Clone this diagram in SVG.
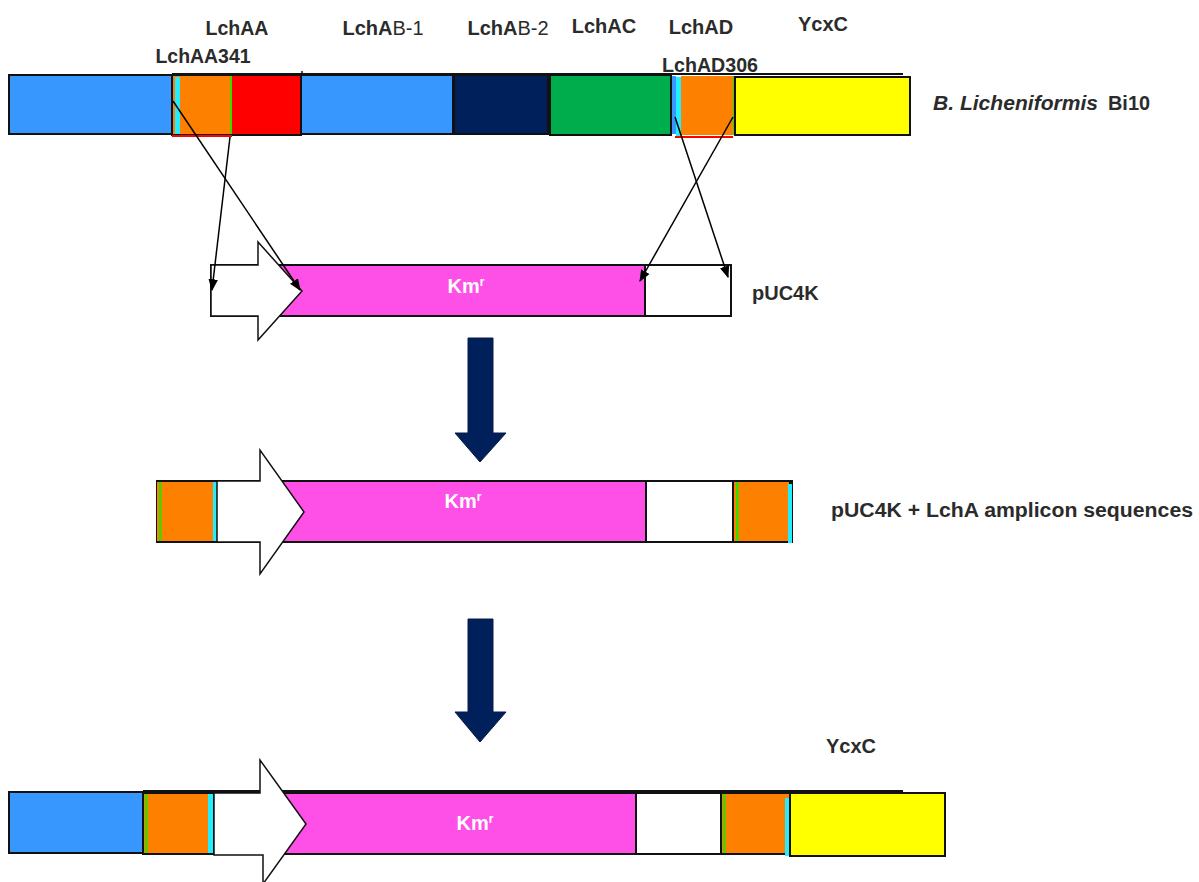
<svg xmlns="http://www.w3.org/2000/svg" width="1199" height="882" viewBox="0 0 1199 882">
<defs>
<style>
.t{font-family:"Liberation Sans",Arial,sans-serif;font-weight:bold;font-size:20px;fill:#2b2b2b}
.n{font-weight:normal}
.km{font-family:"Liberation Sans",Arial,sans-serif;font-weight:bold;font-size:20px;fill:#fff}
.b{stroke:#111;stroke-width:2}
.c{stroke:#000;stroke-width:1.5;fill:none}
</style>
<marker id="ah" viewBox="0 0 10 10" refX="9" refY="5" markerWidth="8" markerHeight="8" orient="auto-start-reverse"><path d="M0,1 L10,5 L0,9 z" fill="#000"/></marker>
</defs>
<rect width="1199" height="882" fill="#fff"/>

<g id="top-bar">
<line x1="172" y1="74" x2="903" y2="74" stroke="#111" stroke-width="2"/>
<line x1="302" y1="71" x2="302" y2="76" stroke="#111" stroke-width="1.5"/>
<rect x="9" y="75" width="163" height="59" fill="#3797fe" class="b"/>
<rect x="172" y="75" width="60" height="60" fill="#fe8000"/>
<rect x="175" y="77" width="5" height="58" fill="#22eeff"/>
<rect x="230" y="75" width="2" height="60" fill="#33dd00"/>
<rect x="232" y="75" width="69" height="60" fill="#fe0000"/>
<rect x="172" y="75" width="129" height="60" fill="none" class="b"/>
<line x1="172" y1="136" x2="232" y2="136" stroke="#fe0000" stroke-width="2"/>
<rect x="301" y="75" width="152" height="59" fill="#3797fe" class="b"/>
<rect x="454" y="75" width="94" height="59" fill="#00205c" class="b"/>
<rect x="550" y="75" width="121" height="60" fill="#00ad4c" class="b"/>
<rect x="672" y="76" width="4" height="58" fill="#3797fe"/>
<rect x="676" y="77" width="5" height="59" fill="#22eeff"/>
<rect x="681" y="76" width="52" height="59" fill="#fe8000"/>
<rect x="733" y="76" width="2" height="59" fill="#33dd00"/>
<line x1="675" y1="137" x2="733" y2="137" stroke="#fe0000" stroke-width="2"/>
<rect x="735" y="77" width="175" height="58" fill="#ffff00" class="b"/>
<text class="t" x="237" y="35" text-anchor="middle" textLength="63" lengthAdjust="spacingAndGlyphs">LchAA</text>
<text class="t" x="203" y="63" text-anchor="middle" textLength="95" lengthAdjust="spacingAndGlyphs">LchAA341</text>
<text class="t" x="383" y="35" text-anchor="middle">LchA<tspan class="n">B-1</tspan></text>
<text class="t" x="508" y="35" text-anchor="middle">LchA<tspan class="n">B-2</tspan></text>
<text class="t" x="604" y="33" text-anchor="middle">LchAC</text>
<text class="t" x="701" y="34" text-anchor="middle">LchAD</text>
<text class="t" x="710" y="72" text-anchor="middle" textLength="96" lengthAdjust="spacingAndGlyphs">LchAD306</text>
<text class="t" x="823" y="31" text-anchor="middle">YcxC</text>
<text class="t" x="933" y="110" font-style="italic" textLength="165" lengthAdjust="spacingAndGlyphs">B. Licheniformis</text>
<text class="t" x="1108" y="110" textLength="42" lengthAdjust="spacingAndGlyphs">Bi10</text>
</g>

<g id="puc4k">
<rect x="211" y="265" width="520" height="51" fill="#fe4fe6" class="b"/>
<rect x="645" y="265" width="86" height="51" fill="#fff" class="b"/>
<path d="M211,265 H258 V242 L302,291 L258,340 V316 H211 Z" fill="#fff" stroke="#111" stroke-width="1.5"/>
<text class="km" x="466" y="293" text-anchor="middle">Km<tspan font-size="12" dy="-7">r</tspan></text>
<text class="t" x="752" y="300" font-size="21">pUC4K</text>
</g>

<g id="step-arrows">
<path d="M468,338 H493 V433 H506 L480,462 L455,433 H468 Z" fill="#00205c" stroke="#0a1a40" stroke-width="1"/>
<path d="M468,619 H493 V712 H506 L480,742 L455,712 H468 Z" fill="#00205c" stroke="#0a1a40" stroke-width="1"/>
</g>

<g id="amplicon">
<rect x="157" y="481" width="635" height="61" fill="#fe4fe6" class="b"/>
<rect x="157" y="482" width="58" height="59" fill="#fe8000"/>
<rect x="159" y="482" width="2.5" height="59" fill="#33dd00"/>
<rect x="213" y="482" width="4" height="59" fill="#22eeff"/>
<rect x="646" y="481" width="87" height="61" fill="#fff" class="b"/>
<rect x="733" y="481" width="57" height="61" fill="#fe8000" class="b"/>
<rect x="736" y="482" width="2.5" height="59" fill="#33dd00"/>
<rect x="788" y="484" width="4" height="59" fill="#22eeff"/>
<path d="M217,481 H260 V450 L304,512 L260,574 V542 H217 Z" fill="#fff" stroke="#111" stroke-width="1.5"/>
<text class="km" x="463" y="508" text-anchor="middle">Km<tspan font-size="12" dy="-7">r</tspan></text>
<text class="t" x="831" y="517" font-size="21" textLength="362" lengthAdjust="spacingAndGlyphs">pUC4K + LchA amplicon sequences</text>
</g>

<g id="result">
<line x1="143" y1="791" x2="903" y2="791" stroke="#111" stroke-width="2"/>
<rect x="9" y="792" width="134" height="61" fill="#3797fe" class="b"/>
<rect x="143" y="793" width="71" height="61" fill="#fe8000" class="b"/>
<rect x="145" y="794" width="2.5" height="59" fill="#33dd00"/>
<rect x="208" y="794" width="5" height="59" fill="#22eeff"/>
<rect x="214" y="793" width="422" height="61" fill="#fe4fe6" class="b"/>
<rect x="636" y="793" width="85" height="61" fill="#fff" class="b"/>
<rect x="721" y="793" width="69" height="61" fill="#fe8000" class="b"/>
<rect x="723" y="794" width="2.5" height="59" fill="#33dd00"/>
<rect x="785" y="798" width="4" height="58" fill="#22eeff"/>
<rect x="790" y="793" width="155" height="63" fill="#ffff00" class="b"/>
<path d="M214,793 H260 V760 L306,824 L263,884 V855 H214 Z" fill="#fff" stroke="#111" stroke-width="1.5"/>
<text class="km" x="475" y="830" text-anchor="middle">Km<tspan font-size="12" dy="-7">r</tspan></text>
<text class="t" x="851" y="753" text-anchor="middle">YcxC</text>
</g>

<g id="connectors">
<line class="c" x1="173" y1="101" x2="300" y2="290" marker-end="url(#ah)"/>
<line class="c" x1="230" y1="137" x2="212" y2="290" marker-end="url(#ah)"/>
<line class="c" x1="675" y1="117" x2="728" y2="277" marker-end="url(#ah)"/>
<line class="c" x1="733" y1="117" x2="640" y2="281" marker-end="url(#ah)"/>
</g>
</svg>
